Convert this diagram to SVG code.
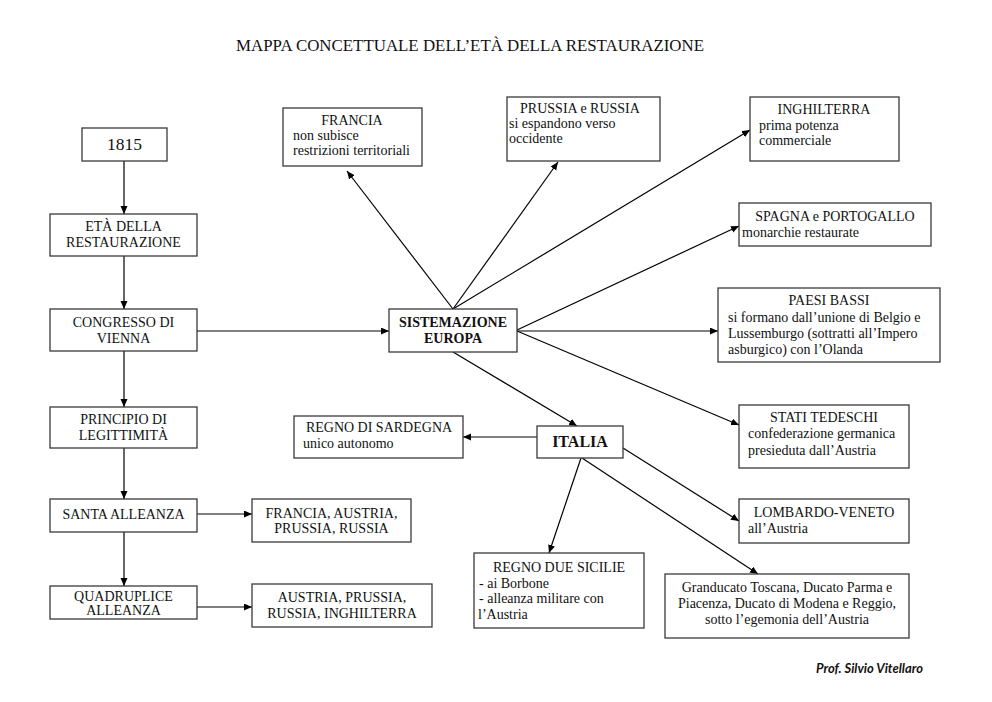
<svg xmlns="http://www.w3.org/2000/svg" width="992" height="702" viewBox="0 0 992 702">
<defs>
<marker id="arr" markerUnits="userSpaceOnUse" markerWidth="9" markerHeight="8" refX="8" refY="3.5" orient="auto">
<path d="M0,0 L8,3.5 L0,7 Z" fill="#000"/>
</marker>
<style>
.box{fill:#fff;stroke:#3a3a3a;stroke-width:1.3}
.t{font-family:"Liberation Serif","Times New Roman",serif;font-size:14px;fill:#111}
.c{text-anchor:middle}
.b{font-weight:bold}
.ln{stroke:#000;stroke-width:1.2;fill:none;marker-end:url(#arr)}
</style>
</defs>
<rect width="992" height="702" fill="#fff"/>
<text x="236" y="51" class="t" style="font-size:17px" textLength="468" lengthAdjust="spacingAndGlyphs">MAPPA CONCETTUALE DELL’ETÀ DELLA RESTAURAZIONE</text>

<g id="connectors">
<line class="ln" x1="124" y1="161" x2="124" y2="214"/>
<line class="ln" x1="124" y1="256" x2="124" y2="309"/>
<line class="ln" x1="124" y1="351" x2="124" y2="407"/>
<line class="ln" x1="124" y1="448" x2="124" y2="499"/>
<line class="ln" x1="124" y1="532" x2="124" y2="586"/>
<line class="ln" x1="197" y1="331" x2="389" y2="331"/>
<line class="ln" x1="197" y1="514" x2="252" y2="514"/>
<line class="ln" x1="197" y1="607" x2="252" y2="607"/>
<line class="ln" x1="453" y1="309" x2="347" y2="171"/>
<line class="ln" x1="453" y1="309" x2="558" y2="162"/>
<line class="ln" x1="453" y1="309" x2="750" y2="130"/>
<line class="ln" x1="517" y1="330" x2="739" y2="226"/>
<line class="ln" x1="517" y1="331" x2="718" y2="331"/>
<line class="ln" x1="517" y1="331" x2="739" y2="425"/>
<line class="ln" x1="453" y1="352" x2="577" y2="426"/>
<line class="ln" x1="537" y1="437" x2="463" y2="437"/>
<line class="ln" x1="581" y1="458" x2="549" y2="553"/>
<line class="ln" x1="582" y1="458" x2="758" y2="574"/>
<line class="ln" x1="623" y1="448" x2="739" y2="521"/>
</g>

<g id="n1815"><rect class="box" x="82" y="128" width="85" height="33"/><text class="t c" x="124.5" y="150" style="font-size:17.5px">1815</text></g>
<g id="eta"><rect class="box" x="50" y="214" width="147" height="42"/><text class="t c" x="123.5" y="231">ETÀ DELLA</text><text class="t c" x="123.5" y="247">RESTAURAZIONE</text></g>
<g id="congresso"><rect class="box" x="50" y="309" width="147" height="42"/><text class="t c" x="123.5" y="327">CONGRESSO DI</text><text class="t c" x="123.5" y="343">VIENNA</text></g>
<g id="principio"><rect class="box" x="50" y="407" width="147" height="41"/><text class="t c" x="123.5" y="424">PRINCIPIO DI</text><text class="t c" x="123.5" y="440">LEGITTIMITÀ</text></g>
<g id="santa"><rect class="box" x="50" y="499" width="147" height="33"/><text class="t c" x="123.5" y="519">SANTA ALLEANZA</text></g>
<g id="quadruplice"><rect class="box" x="50" y="586" width="147" height="33"/><text class="t c" x="123.5" y="601">QUADRUPLICE</text><text class="t c" x="123.5" y="615">ALLEANZA</text></g>
<g id="santa-membri"><rect class="box" x="252" y="499" width="159" height="43"/><text class="t c" x="331.5" y="518">FRANCIA, AUSTRIA,</text><text class="t c" x="331.5" y="533">PRUSSIA, RUSSIA</text></g>
<g id="quad-membri"><rect class="box" x="252" y="584" width="180" height="43"/><text class="t c" x="342" y="602">AUSTRIA, PRUSSIA,</text><text class="t c" x="342" y="618">RUSSIA, INGHILTERRA</text></g>

<g id="sistemazione"><rect class="box" x="389" y="309" width="128" height="43"/><text class="t c b" x="453" y="327">SISTEMAZIONE</text><text class="t c b" x="453" y="343">EUROPA</text></g>
<g id="francia"><rect class="box" x="283" y="108" width="139" height="58"/><text class="t c" x="352" y="125">FRANCIA</text><text class="t" x="293" y="140">non subisce</text><text class="t" x="293" y="155">restrizioni territoriali</text></g>
<g id="prussia"><rect class="box" x="507" y="97" width="153" height="64"/><text class="t c" x="580" y="113">PRUSSIA e RUSSIA</text><text class="t" x="509" y="128">si espandono verso</text><text class="t" x="509" y="143">occidente</text></g>
<g id="inghilterra"><rect class="box" x="750" y="97" width="149" height="64"/><text class="t c" x="824" y="114">INGHILTERRA</text><text class="t" x="759" y="130">prima potenza</text><text class="t" x="759" y="145">commerciale</text></g>
<g id="spagna"><rect class="box" x="739" y="203" width="192" height="43"/><text class="t c" x="835" y="221">SPAGNA e PORTOGALLO</text><text class="t" x="742" y="237">monarchie restaurate</text></g>
<g id="paesibassi"><rect class="box" x="718" y="288" width="222" height="74"/><text class="t c" x="829" y="305">PAESI BASSI</text><text class="t" x="728" y="322">si formano dall’unione di Belgio e</text><text class="t" x="728" y="338">Lussemburgo (sottratti all’Impero</text><text class="t" x="728" y="354">asburgico) con l’Olanda</text></g>
<g id="stati"><rect class="box" x="739" y="405" width="170" height="63"/><text class="t c" x="824" y="422">STATI TEDESCHI</text><text class="t" x="748" y="438">confederazione germanica</text><text class="t" x="748" y="455">presieduta dall’Austria</text></g>

<g id="italia"><rect class="box" x="537" y="426" width="86" height="32"/><text class="t c b" x="580" y="447" style="font-size:16px">ITALIA</text></g>
<g id="sardegna"><rect class="box" x="294" y="416" width="169" height="42"/><text class="t c" x="379" y="432">REGNO DI SARDEGNA</text><text class="t" x="303" y="448">unico autonomo</text></g>
<g id="duesicilie"><rect class="box" x="474" y="553" width="170" height="75"/><text class="t c" x="559" y="572">REGNO DUE SICILIE</text><text class="t" x="479" y="588">- ai Borbone</text><text class="t" x="479" y="603">- alleanza militare con</text><text class="t" x="478" y="619">l’Austria</text></g>
<g id="lombardo"><rect class="box" x="739" y="499" width="170" height="44"/><text class="t c" x="824" y="517">LOMBARDO-VENETO</text><text class="t" x="748" y="533">all’Austria</text></g>
<g id="granducato"><rect class="box" x="665" y="574" width="244" height="64"/><text class="t c" x="787" y="592">Granducato Toscana, Ducato Parma e</text><text class="t c" x="787" y="608">Piacenza, Ducato di Modena e Reggio,</text><text class="t c" x="787" y="624">sotto l’egemonia dell’Austria</text></g>

<text x="923" y="673" style="font-family:Lato,'Open Sans',sans-serif;font-size:13px;font-weight:bold;font-style:italic;text-anchor:end" fill="#111">Prof. Silvio Vitellaro</text>
</svg>
